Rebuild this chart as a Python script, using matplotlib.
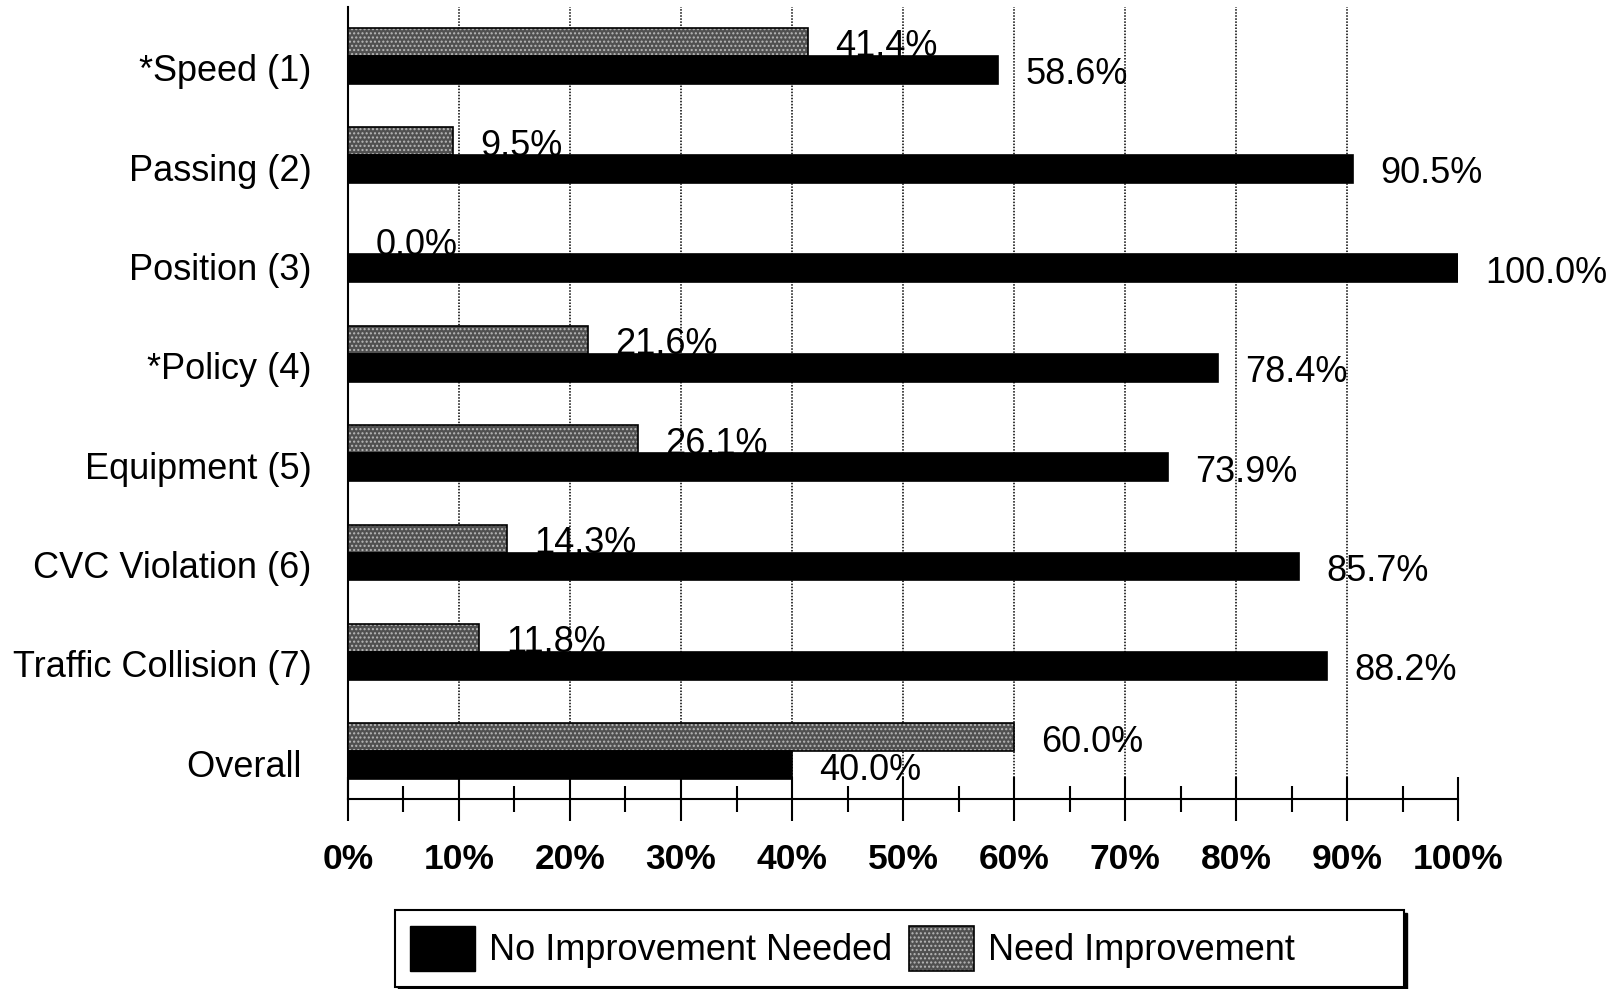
from matplotlib import pyplot as plt
from matplotlib.patches import Patch, Rectangle
from matplotlib.legend_handler import HandlerTuple
from matplotlib.ticker import MultipleLocator, FuncFormatter
import numpy as np

categories = ["*Speed (1)", "Passing (2)", "Position (3)", "*Policy (4)",
              "Equipment (5)", "CVC Violation (6)", "Traffic Collision (7)", "Overall "]
need_improvement = [41.4, 9.5, 0.0, 21.6, 26.1, 14.3, 11.8, 60.0]
no_improvement = [58.6, 90.5, 100.0, 78.4, 73.9, 85.7, 88.2, 40.0]

plt.rcParams['font.family'] = ['Liberation Sans', 'DejaVu Sans']
plt.rcParams['hatch.linewidth'] = 1.0

W, H = 1617, 989
fig = plt.figure(figsize=(W / 100, H / 100), dpi=100)
ax = fig.add_axes([0.2152, 0.1921, 0.6865, 0.8008])

y = np.arange(len(categories))
h = 0.28
gray = '#505050'
dots = '#b8b8b8'

# stippled bars: hatched fill first, then a black outline on top
ax.barh(y - h / 2, need_improvement, height=h, color=gray, hatch='....',
        edgecolor=dots, linewidth=0, zorder=3)
ax.barh(y - h / 2, need_improvement, height=h, fill=False,
        edgecolor='black', linewidth=1.2, zorder=4)
ax.barh(y + h / 2, no_improvement, height=h, color='black',
        edgecolor='black', linewidth=1.2, zorder=4)

for yi, v in zip(y, need_improvement):
    ax.text(v + 2.45, yi - h / 2 + 0.05, f"{v:.1f}%", va='center', ha='left',
            fontsize=26, zorder=5)
for yi, v in zip(y, no_improvement):
    ax.text(v + 2.45, yi + h / 2 + 0.05, f"{v:.1f}%", va='center', ha='left',
            fontsize=26, zorder=5)

ax.set_xlim(0, 100)
ax.set_ylim(7.48, -0.49)
ax.set_yticks(y + 0.12)
ax.set_yticklabels(categories, fontsize=26)
ax.tick_params(axis='y', length=0, pad=26)

ax.xaxis.set_major_locator(MultipleLocator(10))
ax.xaxis.set_minor_locator(MultipleLocator(5))
ax.xaxis.set_major_formatter(FuncFormatter(lambda v, p: f"{v:.0f}%"))
ax.tick_params(axis='x', which='major', direction='inout', length=32, width=1.5,
               labelsize=25.5, pad=16)
ax.tick_params(axis='x', which='minor', direction='inout', length=19, width=1.5)
for lab in ax.get_xticklabels():
    lab.set_fontweight('bold')

# dotted gridlines at 10..90%, none on the right edge
ax.vlines(np.arange(10, 100, 10), 0, 1, transform=ax.get_xaxis_transform(),
          color='black', linestyle=(0, (1, 1)), linewidth=1.1, zorder=1)

for s in ['top', 'right']:
    ax.spines[s].set_visible(False)
ax.spines['left'].set_linewidth(1.5)
ax.spines['bottom'].set_linewidth(1.5)

# legend box with a hard drop shadow, wider than its contents
bx, by, bw, bh = 395 / W, 1 - 987 / H, 1009 / W, 77 / H
fig.add_artist(Rectangle((bx + 3 / W, by - 3 / H), bw, bh, transform=fig.transFigure,
                         facecolor='black', edgecolor='black', zorder=3))
fig.add_artist(Rectangle((bx, by), bw, bh, transform=fig.transFigure,
                         facecolor='white', edgecolor='black', linewidth=1.5, zorder=4))

h_black = Patch(facecolor='black', edgecolor='black')
h_gray = (Patch(facecolor=gray, hatch='....', edgecolor=dots, linewidth=0),
          Patch(fill=False, edgecolor='black', linewidth=1.2))
leg = fig.legend([h_black, h_gray], ["No Improvement Needed", "Need Improvement"],
                 handler_map={tuple: HandlerTuple(ndivide=1)},
                 loc='center left', bbox_to_anchor=(410 / W, 1 - 948.5 / H),
                 ncol=2, fontsize=26, frameon=False,
                 handlelength=1.8, handleheight=1.5, handletextpad=0.4,
                 columnspacing=0.45, borderpad=0, borderaxespad=0)
leg.set_zorder(5)

fig.savefig("out.png", dpi=100)
